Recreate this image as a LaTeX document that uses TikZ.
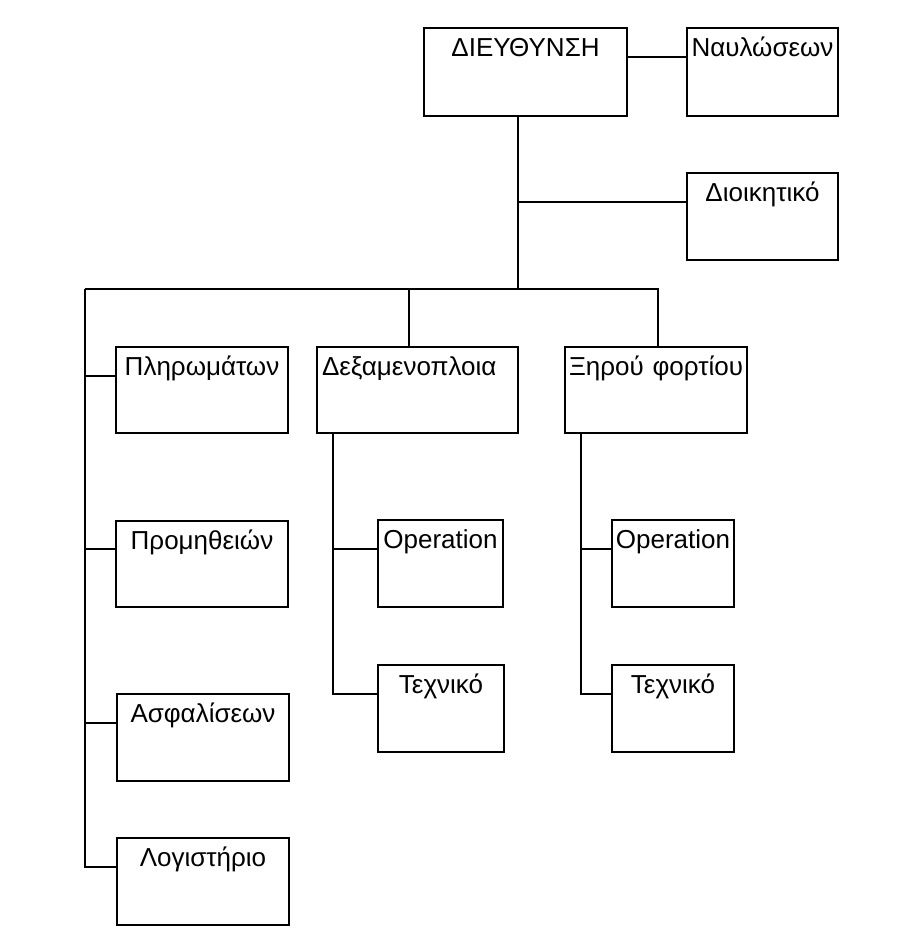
\documentclass[tikz,border=0pt]{standalone}
\usepackage{fontspec}
\setmainfont{Liberation Sans}
\begin{document}
\begin{tikzpicture}[x=1pt,y=-1pt,
  line width=1.5pt,
  unitbox/.style 2 args={draw, rectangle, inner sep=0pt, outer sep=0pt, anchor=north west,
    text width=#1pt, align=center,
    text height=28pt, text depth=#2pt-28pt,
    font=\fontsize{26}{30}\selectfont},
  link/.style={draw, line width=1.5pt}
]
\useasboundingbox[fill=white] (0,0) rectangle (916,943);

% top level
\node[unitbox={203}{88}] (dir) at (424,28) {ΔΙΕΥΘΥΝΣΗ};
\node[unitbox={151}{88}] (nav) at (687,28) {Ναυλώσεων};
\node[unitbox={151}{87}] (dio) at (687,173) {Διοικητικό};

% second level
\node[unitbox={172}{86}] (pli) at (116,347) {Πληρωμάτων};
\node[unitbox={201}{86}, text width=191pt, inner xsep=5pt, align=left] (dex) at (317,347) {Δεξαμενοπλοια};
\node[unitbox={182}{86}] (xir) at (565,347) {Ξηρού φορτίου};

% left column
\node[unitbox={172}{86}] (pro) at (116,521) {Προμηθειών};
\node[unitbox={172}{87}] (asf) at (117,694) {Ασφαλίσεων};
\node[unitbox={172}{87}] (log) at (117,838) {Λογιστήριο};

% tanker and dry cargo units
\node[unitbox={125}{87}] (op1) at (378,520) {Operation};
\node[unitbox={126}{87}] (te1) at (378,665) {Τεχνικό};
\node[unitbox={122}{87}] (op2) at (612,520) {Operation};
\node[unitbox={122}{87}] (te2) at (612,665) {Τεχνικό};

% junction points
\coordinate (trunk) at (518,289);
\coordinate (hl) at (85,289);
\coordinate (hr) at (658,289);
\coordinate (dexup) at (409,289);
\coordinate (lbot) at (85,867);
\coordinate (dexdn) at (333,694);
\coordinate (xirdn) at (581,694);

% connectors
\draw[link] ([yshift=-29pt]dir.north east) -- ([yshift=-29pt]nav.north west);
\draw[link] (trunk |- dir.south) -- (trunk);
\draw[link] (trunk |- dio.north west) ++(0,29) -- ([yshift=-29pt]dio.north west);
\draw[link] (hl) -- (hr) -- (hr |- xir.north);
\draw[link] (dexup) -- (dexup |- dex.north);
\draw[link] (hl) -- (lbot) -- ([yshift=-29pt]log.north west);
\draw[link] (hl |- pli.north west) ++(0,29) -- ([yshift=-29pt]pli.north west);
\draw[link] (hl |- pro.north west) ++(0,28) -- ([yshift=-28pt]pro.north west);
\draw[link] (hl |- asf.north west) ++(0,29) -- ([yshift=-29pt]asf.north west);

\draw[link] (dexdn |- dex.south) -- (dexdn) -- ([yshift=-29pt]te1.north west);
\draw[link] (dexdn |- op1.north west) ++(0,29) -- ([yshift=-29pt]op1.north west);
\draw[link] (xirdn |- xir.south) -- (xirdn) -- ([yshift=-29pt]te2.north west);
\draw[link] (xirdn |- op2.north west) ++(0,29) -- ([yshift=-29pt]op2.north west);
\end{tikzpicture}
\end{document}
